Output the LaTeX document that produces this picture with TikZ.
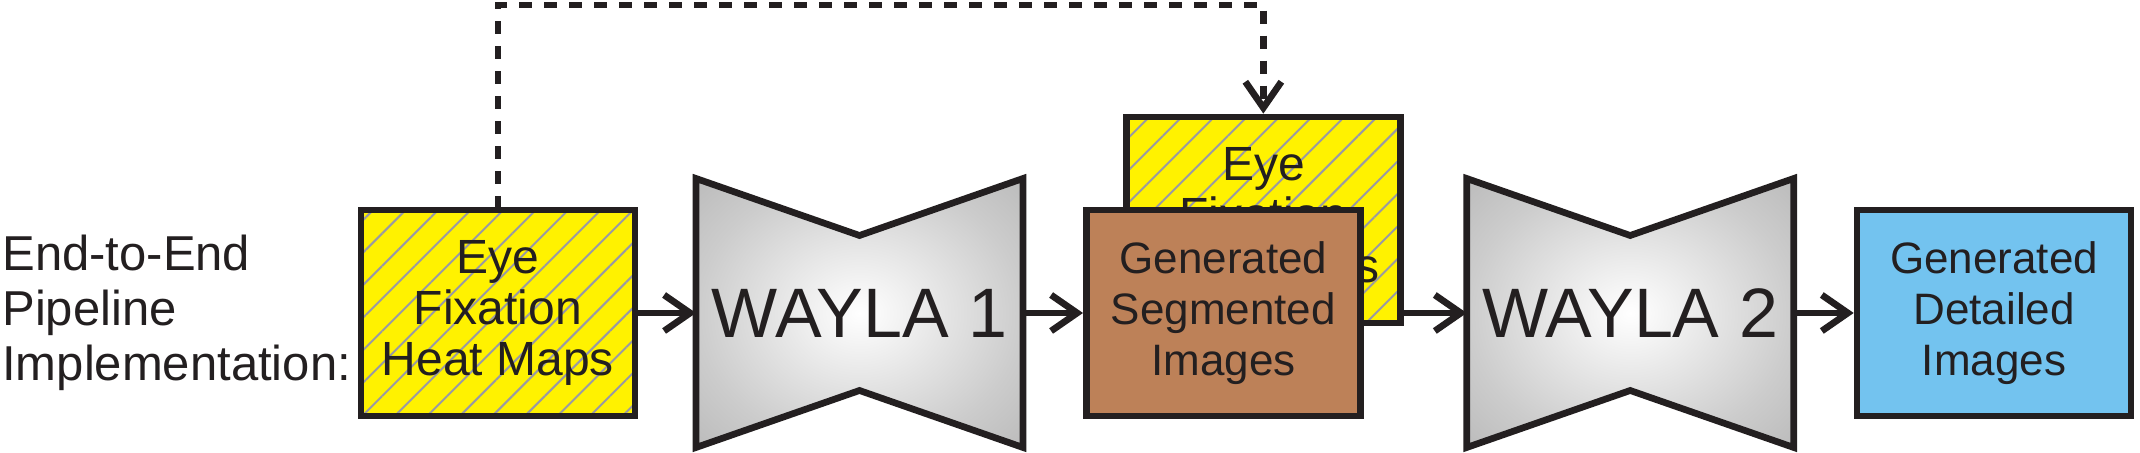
\documentclass[tikz,border=0pt]{standalone}
\usepackage{fontspec}
\setmainfont{Liberation Sans}
\usetikzlibrary{positioning,arrows.meta,patterns.meta,backgrounds}

\definecolor{ink}{HTML}{231F20}
\definecolor{heatyellow}{HTML}{FFF200}
\definecolor{hatchgray}{HTML}{9A9AA2}
\definecolor{segbrown}{HTML}{BD8158}
\definecolor{detblue}{HTML}{73C3EF}

\pgfdeclareradialshading{waylashade}{\pgfpoint{0bp}{0bp}}{%
  color(0bp)=(white); color(25bp)=(black!20); color(36bp)=(black!27);
  color(50bp)=(black!27)}

% bow-tie body drawn from the anchors of a wayla node
\newcommand{\waylabody}[1]{%
  \draw[waylaline] (#1.north west) -- ([yshift=-28.5pt]#1.north) -- (#1.north east)
    -- (#1.south east) -- ([yshift=28.5pt]#1.south) -- (#1.south west) -- cycle;}

\begin{document}
\begin{tikzpicture}[
  line width=3.35pt, ink,
  node distance = 30pt,
  box/.style     = {draw=ink, minimum width=137pt, minimum height=103pt,
                    align=center, inner sep=0pt, text=ink},
  heatbox/.style = {box, font=\fontsize{24}{25.5}\selectfont,
                    preaction={fill=heatyellow},
                    pattern={Lines[angle=45,distance=11.5pt,line width=1pt]},
                    pattern color=hatchgray},
  segbox/.style  = {box, fill=segbrown, font=\fontsize{22}{25.5}\selectfont},
  detbox/.style  = {box, fill=detblue, font=\fontsize{22}{25.5}\selectfont},
  wayla/.style   = {minimum width=163.5pt, minimum height=134.5pt, outer sep=0pt,
                    inner sep=0pt, text=ink, font=\fontsize{35}{40}\selectfont},
  waylaline/.style = {draw=ink, line width=3.35pt, line join=miter, shade, shading=waylashade},
  arr/.style     = {draw=ink, line width=3.35pt,
                    -{Straight Barb[length=13pt,width=18pt,line cap=butt,line join=miter]}},
  fbarr/.style   = {arr, dash pattern=on 6.5pt off 6pt},
]
\useasboundingbox (-249pt,-70pt) rectangle (821pt,156.5pt);
% pipeline row
\node[heatbox] (heat1) at (0,0) {Eye\\ Fixation\\ Heat Maps};
\node[wayla, right=of heat1] (w1) {WAYLA 1};
\node[heatbox, right=of w1, xshift=20pt, yshift=46.5pt] (heat2) {Eye\\ Fixation\\ Heat Maps};
\node[segbox, right=of w1] (seg) {Generated\\ Segmented\\ Images};
\node[wayla, right=of seg, xshift=21.5pt] (w2) {WAYLA 2};
\node[detbox, right=of w2] (det) {Generated\\ Detailed\\ Images};
% row label
\node[left=4.5pt of heat1, align=left, inner sep=0pt, outer sep=0pt, text=ink,
      font=\fontsize{24.5}{27.5}\selectfont] (lbl) {End-to-End\\ Pipeline\\ Implementation:};
% bodies and hidden edge
\begin{scope}[on background layer]
  \waylabody{w1}
  \waylabody{w2}
  \draw[arr] (seg.east) -- (w2.west);
\end{scope}
% edges
\draw[arr] (heat1.east) -- (w1.west);
\draw[arr] (w1.east) -- (seg.west);
\draw[arr] (w2.east) -- (det.west);
% feedback of the heat maps
\coordinate[above=102pt of heat1.north] (fbtop);
\draw[fbarr] (heat1.north) -- (fbtop) -| (heat2.north);
\end{tikzpicture}
\end{document}
